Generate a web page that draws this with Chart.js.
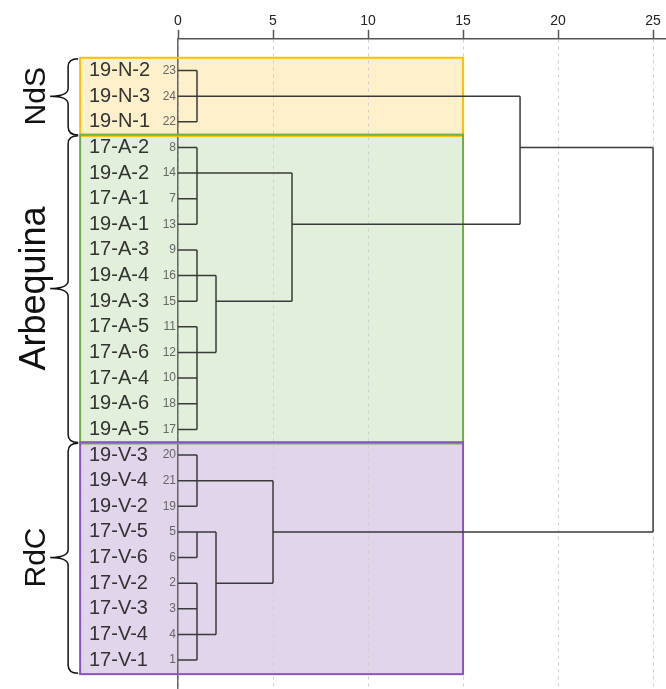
<!DOCTYPE html>
<html lang="en">
<head>
    <meta charset="UTF-8">
    <title>Dendrogram - NdS / Arbequina / RdC</title>
    <script src="https://cdn.jsdelivr.net/npm/chart.js"></script>
    <style>
        body { margin: 0; background: #fff; }
        #wrap { width: 666px; height: 689px; }
    </style>
</head>
<body>
    <div id="wrap">
        <canvas id="dendro"></canvas>
    </div>

    <script>
        // leaves, top to bottom
        const leafNames = ['19-N-2', '19-N-3', '19-N-1',
            '17-A-2', '19-A-2', '17-A-1', '19-A-1', '17-A-3', '19-A-4', '19-A-3',
            '17-A-5', '17-A-6', '17-A-4', '19-A-6', '19-A-5',
            '19-V-3', '19-V-4', '19-V-2', '17-V-5', '17-V-6', '17-V-2', '17-V-3', '17-V-4', '17-V-1'];
        const leafIds = [23, 24, 22, 8, 14, 7, 13, 9, 16, 15, 11, 12, 10, 18, 17,
            20, 21, 19, 5, 6, 2, 3, 4, 1];

        // merges: children (L = leaf row, M = merge index), distance, row the link leaves from
        const mergeKids = [
            ['L0', 'L1', 'L2'],
            ['L3', 'L4', 'L5', 'L6'],
            ['L7', 'L8', 'L9'],
            ['L10', 'L11', 'L12', 'L13', 'L14'],
            ['M2', 'M3'],
            ['M1', 'M4'],
            ['M0', 'M5'],
            ['L15', 'L16', 'L17'],
            ['L18', 'L19'],
            ['L20', 'L21', 'L22', 'L23'],
            ['M8', 'M9'],
            ['M7', 'M10'],
            ['M6', 'M11']
        ];
        const mergeHeights = [1, 1, 1, 1, 2, 6, 18, 1, 1, 1, 2, 5, 25];
        const mergeRows = [1, 4, 8, 11, 9, 6, 3, 16, 18, 22, 20, 18, null];

        const xTicks = [0, 5, 10, 15, 20, 25];

        // groups
        const groupNames = ['NdS', 'Arbequina', 'RdC'];
        const groupFirst = [0, 3, 15];
        const groupLast = [2, 14, 23];
        const boxFrom = -5.15;
        const boxTo = 15;

        // styles
        const groupFill = ['#fff0cc', '#e2efda', '#e1d5ec'];
        const groupEdge = ['#ffc000', '#70ad47', '#8a55c0'];
        const groupFont = [30, 36, 30];
        const lineColor = '#3a3a3a';

        function nodePos(id) {
            const n = parseInt(id.slice(1));
            if (id[0] === 'L') return { h: 0, row: n };
            return { h: mergeHeights[n], row: mergeRows[n] };
        }

        // one dataset per segment of the tree
        const datasets = [];
        function seg(x0, y0, x1, y1) {
            datasets.push({
                data: [{ x: x0, y: y0 }, { x: x1, y: y1 }],
                showLine: true,
                borderColor: lineColor,
                borderWidth: 1.5,
                pointRadius: 0,
                yAxisID: 'y'
            });
        }
        mergeKids.forEach((kids, i) => {
            const h = mergeHeights[i];
            const rows = [];
            kids.forEach(k => {
                const p = nodePos(k);
                seg(p.h, p.row, h, p.row);
                rows.push(p.row);
            });
            seg(h, Math.min(...rows), h, Math.max(...rows));
        });

        const rowMin = -1.24, rowMax = 24.13;

        function boxRect(chart, i) {
            const { x, y } = chart.scales;
            const left = x.getPixelForValue(boxFrom);
            const right = x.getPixelForValue(boxTo);
            const top = y.getPixelForValue(groupFirst[i] - 0.5);
            const bottom = y.getPixelForValue(groupLast[i] + 0.55);
            return { left, top, w: right - left, h: bottom - top };
        }

        const groupBoxes = {
            id: 'groupBoxes',
            // fill under the grid, edges on top of it
            beforeDraw(chart) {
                const ctx = chart.ctx;
                ctx.save();
                groupNames.forEach((g, i) => {
                    const r = boxRect(chart, i);
                    ctx.fillStyle = groupFill[i];
                    ctx.fillRect(r.left, r.top, r.w, r.h);
                });
                ctx.restore();
            },
            beforeDatasetsDraw(chart) {
                const ctx = chart.ctx;
                ctx.save();
                groupNames.forEach((g, i) => {
                    const r = boxRect(chart, i);
                    ctx.strokeStyle = groupEdge[i];
                    ctx.lineWidth = 2;
                    ctx.strokeRect(r.left, r.top, r.w, r.h);
                });
                ctx.restore();
            },
            afterDraw(chart) {
                const { ctx, scales: { x, y } } = chart;
                const boxLeft = x.getPixelForValue(boxFrom);
                const bx = boxLeft - 12, tx = boxLeft - 30, ex = boxLeft - 2;
                ctx.save();
                groupNames.forEach((g, i) => {
                    const y0 = y.getPixelForValue(groupFirst[i] - 0.5) + 1;
                    const y1 = y.getPixelForValue(groupLast[i] + 0.55) - 1;
                    const ym = y.getPixelForValue((groupFirst[i] + groupLast[i]) / 2);
                    const r = 8;
                    ctx.beginPath();
                    ctx.moveTo(ex, y0);
                    ctx.quadraticCurveTo(bx, y0, bx, y0 + r);
                    ctx.lineTo(bx, ym - r);
                    ctx.quadraticCurveTo(bx, ym, tx, ym);
                    ctx.quadraticCurveTo(bx, ym, bx, ym + r);
                    ctx.lineTo(bx, y1 - r);
                    ctx.quadraticCurveTo(bx, y1, ex, y1);
                    ctx.strokeStyle = '#111';
                    ctx.lineWidth = 1.5;
                    ctx.stroke();

                    ctx.save();
                    ctx.translate(boxLeft - 35, ym);
                    ctx.rotate(-Math.PI / 2);
                    ctx.font = groupFont[i] + 'px "Liberation Sans", Arial, sans-serif';
                    ctx.fillStyle = '#111';
                    ctx.textAlign = 'center';
                    ctx.textBaseline = 'alphabetic';
                    ctx.fillText(g, 0, 0);
                    ctx.restore();
                });
                ctx.restore();
            }
        };

        const rowTicks = scale => { scale.ticks = leafNames.map((n, i) => ({ value: i })); };
        const noPad = scale => { scale.paddingTop = 0; scale.paddingBottom = 0; };

        const ctx = document.getElementById('dendro').getContext('2d');
        new Chart(ctx, {
            type: 'scatter',
            data: { datasets: datasets },
            plugins: [groupBoxes],
            options: {
                responsive: true,
                maintainAspectRatio: false,
                animation: false,
                layout: { padding: { left: 89, top: 13, right: 0, bottom: 0 } },
                plugins: {
                    legend: { display: false },
                    tooltip: { enabled: false }
                },
                scales: {
                    x: {
                        type: 'linear',
                        position: 'top',
                        min: 0,
                        max: 25.68,
                        afterBuildTicks: scale => { scale.ticks = xTicks.map(v => ({ value: v })); },
                        afterFit: scale => { scale.paddingLeft = 0; scale.paddingRight = 0; },
                        grid: {
                            color: '#cfcfcf',
                            tickLength: 9,
                            tickColor: '#555',
                            tickWidth: 1.5,
                            tickBorderDash: []
                        },
                        border: { display: true, color: '#555', width: 1.5, dash: [3, 4] },
                        ticks: {
                            padding: 0,
                            color: '#222',
                            font: { family: '"Liberation Sans", Arial, sans-serif', size: 14 }
                        }
                    },
                    y: {
                        type: 'linear',
                        position: 'left',
                        weight: 1,
                        reverse: true,
                        min: rowMin,
                        max: rowMax,
                        afterBuildTicks: rowTicks,
                        afterFit: scale => { scale.width = 22; noPad(scale); },
                        grid: { display: false, drawTicks: false },
                        border: { display: true, color: '#666', width: 1.5 },
                        ticks: {
                            autoSkip: false,
                            padding: 2,
                            color: '#666',
                            font: { family: '"Liberation Sans", Arial, sans-serif', size: 12 },
                            callback: v => leafIds[v]
                        }
                    },
                    yNames: {
                        type: 'linear',
                        position: 'left',
                        weight: 2,
                        reverse: true,
                        min: rowMin,
                        max: rowMax,
                        afterBuildTicks: rowTicks,
                        afterFit: scale => { scale.width = 67; noPad(scale); },
                        grid: { display: false, drawTicks: false },
                        border: { display: false },
                        ticks: {
                            autoSkip: false,
                            crossAlign: 'far',
                            padding: 0,
                            color: '#333',
                            font: { family: '"Liberation Sans", Arial, sans-serif', size: 20 },
                            callback: v => leafNames[v]
                        }
                    }
                }
            }
        });
    </script>
</body>
</html>
